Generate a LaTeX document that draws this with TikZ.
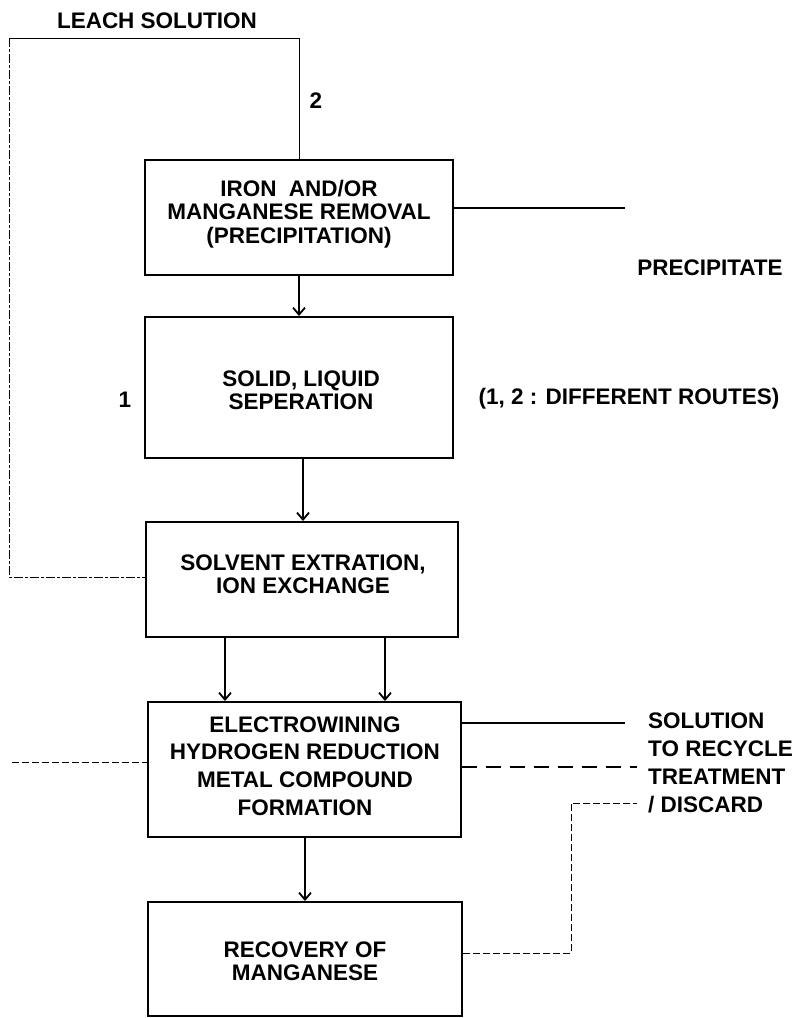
\documentclass[tikz,border=0pt]{standalone}
\usepackage{fontspec}
\setmainfont{Liberation Sans}
\usetikzlibrary{arrows.meta}
\begin{document}
\begin{tikzpicture}[x=1pt,y=-1pt,
  box/.style={draw, line width=2pt, inner sep=0pt},
  txt/.style={inner sep=0pt, align=center, font=\bfseries\fontsize{22.5}{23.5}\selectfont},
  txtw/.style={inner sep=0pt, align=center, font=\bfseries\fontsize{22.5}{27.7}\selectfont},
  lbl/.style={inner sep=0pt, font=\bfseries\fontsize{22.5}{24}\selectfont},
  arr/.style={line width=1.8pt, -{Straight Barb[length=7pt,width=12pt,line width=1.8pt]}},
  route/.style={line width=1pt},
  routed/.style={line width=1pt, dash pattern=on 9pt off 2pt on 3pt off 2pt},
  thindash/.style={line width=1pt, dash pattern=on 7pt off 3pt},
  heavydash/.style={line width=2.8pt, dash pattern=on 15pt off 9pt},
  outline/.style={line width=1.5pt}
]
\useasboundingbox (0,0) rectangle (794,1018);

% boxes
\node[box, minimum width=308pt, minimum height=115pt] (b1) at (299,217.5) {};
\node[box, minimum width=308pt, minimum height=141pt] (b2) at (299,387.5) {};
\node[box, minimum width=312pt, minimum height=115pt] (b3) at (302,579.5) {};
\node[box, minimum width=313pt, minimum height=135pt] (b4) at (304.5,769.5) {};
\node[box, minimum width=314pt, minimum height=114pt] (b5) at (305,959) {};

% box texts
\node[txt] (t1) at (299,214) {IRON\ \ AND/OR\\MANGANESE REMOVAL\\(PRECIPITATION)};
\node[txt] (t2) at (301,390) {SOLID, LIQUID\\SEPERATION};
\node[txt] (t3) at (303,574) {SOLVENT EXTRATION,\\ION EXCHANGE};
\node[txtw] (t4) at (305,766) {ELECTROWINING\\HYDROGEN REDUCTION\\METAL COMPOUND\\FORMATION};
\node[txt] (t5) at (305,961) {RECOVERY OF\\MANGANESE};

% labels
\node[lbl] (leach) at (157,21) {LEACH SOLUTION};
\node[lbl] (two) at (316,101) {2};
\node[lbl] (one) at (125,400) {1};
\node[lbl] (prec) at (710,268) {PRECIPITATE};
\node[lbl] (routes) at (629,399) {(1, 2 : DIFFERENT ROUTES)};
\node[lbl, anchor=west] (s1) at (648,721) {SOLUTION};
\node[lbl, anchor=west] (s2) at (648,749) {TO RECYCLE};
\node[lbl, anchor=west] (s3) at (648,777) {TREATMENT};
\node[lbl, anchor=west] (s4) at (648,805) {/ DISCARD};

% coordinates for free ends
\coordinate (tr) at (299,38);
\coordinate (tl) at (9,38);
\coordinate (bl) at (9,577);
\coordinate (pe) at (625,208);
\coordinate (se) at (625,723);
\coordinate (he) at (637,767);
\coordinate (le) at (12,762);
\coordinate (rc) at (571,953);
\coordinate (rt) at (571,803);
\coordinate (re) at (637,803);
\coordinate (xa) at (225,0);
\coordinate (xb) at (385,0);
\coordinate (xc) at (303,0);

% main flow arrows
\draw[arr] (b1.south) -- (b2.north);
\draw[arr] (b2.south -| xc) -- (b3.north -| xc);
\draw[arr] (b3.south -| xa) -- (b4.north -| xa);
\draw[arr] (b3.south -| xb) -- (b4.north -| xb);
\draw[arr] (b4.south -| b5.north) -- (b5.north);

% leach solution routes
\draw[route] (b1.north) -- (tr) -- (tl);
\draw[routed] (tl) -- (bl) -- (bl -| b3.west);

% outputs
\draw[outline] (b1.east |- pe) -- (pe);
\draw[outline] (b4.east |- se) -- (se);
\draw[heavydash] (b4.east |- he) -- (he);
\draw[thindash] (le) -- (le -| b4.west);
\draw[thindash] (b5.east |- rc) -- (rc) -- (rt) -- (re);
\end{tikzpicture}
\end{document}
